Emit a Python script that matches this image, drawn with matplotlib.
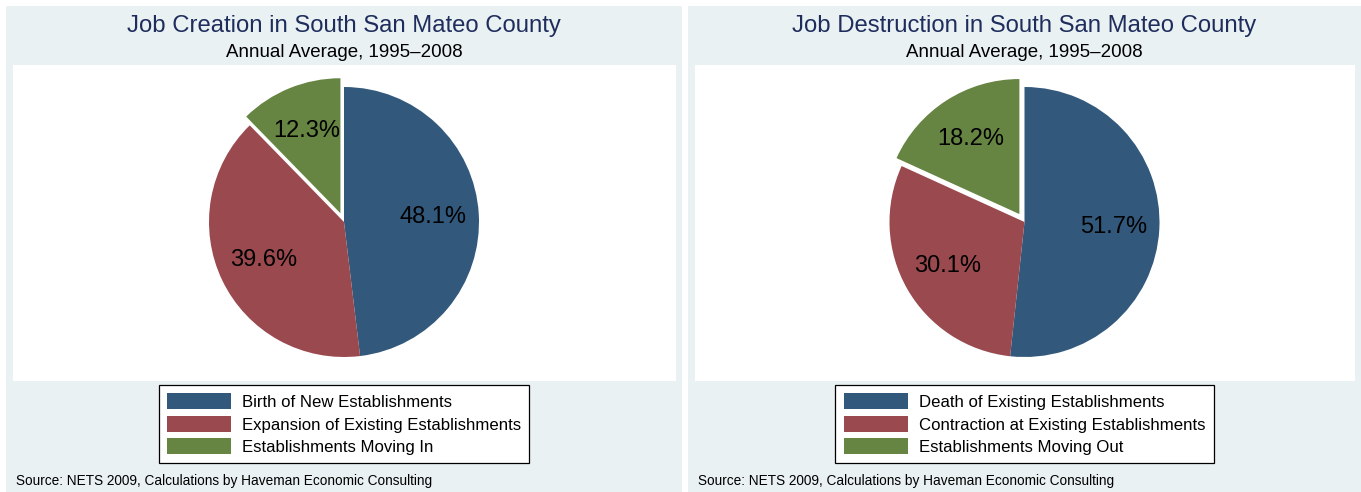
import matplotlib
matplotlib.use("Agg")
import matplotlib.pyplot as plt
from matplotlib.patches import Patch

plt.rcParams['font.family'] = ['Liberation Sans', 'DejaVu Sans']

W, H = 1361, 492

creation_labels = ['Birth of New Establishments',
                   'Expansion of Existing Establishments',
                   'Establishments Moving In']
creation_share = [48.1, 39.6, 12.3]

destruction_labels = ['Death of Existing Establishments',
                      'Contraction at Existing Establishments',
                      'Establishments Moving Out']
destruction_share = [51.7, 30.1, 18.2]

titles = ['Job Creation in South San Mateo County',
          'Job Destruction in South San Mateo County']
subtitle = 'Annual Average, 1995\u20132008'
source = 'Source: NETS 2009, Calculations by Haveman Economic Consulting'

colors = ['#32597C', '#9A494F', '#668442']
panel_bg = '#EAF1F3'
title_color = '#1E2D5C'


def px(x0, y0, x1, y1):
    # pixel box (top-left origin) -> figure fraction rect
    return [x0 / W, 1 - y1 / H, (x1 - x0) / W, (y1 - y0) / H]


fig = plt.figure(figsize=(W / 100, H / 100), dpi=100)
fig.patch.set_facecolor('white')


def panel(x0, x1, title, labels, shares):
    # grey-blue graph region
    bg = fig.add_axes(px(x0, 6, x1, 492))
    bg.set_facecolor(panel_bg)
    bg.set_xticks([]); bg.set_yticks([])
    for s in bg.spines.values():
        s.set_visible(False)
    # white plot region
    inner = fig.add_axes(px(x0 + 7, 65, x1 - 6, 381))
    inner.set_facecolor('white')
    inner.set_xticks([]); inner.set_yticks([])
    for s in inner.spines.values():
        s.set_visible(False)

    cx = (x0 + x1) / 2
    fig.text(cx / W, 1 - 32 / H, title, ha='center', va='baseline',
             fontsize=17.2, color=title_color)
    fig.text(cx / W, 1 - 57 / H, subtitle, ha='center', va='baseline',
             fontsize=13.5, color='black')

    # pie: radius 135 px around (cx, 222)
    R = 135
    half = 150
    ax = fig.add_axes(px(cx - half, 222 - half, cx + half, 222 + half))
    ax.pie(shares, colors=colors, startangle=90, counterclock=False,
           explode=[0, 0, 0.07], autopct='%1.1f%%', pctdistance=0.66,
           wedgeprops=dict(linewidth=0), textprops=dict(fontsize=17))
    lim = half / R
    ax.set_xlim(-lim, lim)
    ax.set_ylim(-lim, lim)
    ax.set_aspect('equal')
    ax.axis('off')

    handles = [Patch(facecolor=c, edgecolor='none') for c in colors]
    leg = fig.legend(handles, labels, loc='upper center',
                     bbox_to_anchor=(cx / W, 1 - 385 / H), borderaxespad=0,
                     fontsize=12.1, frameon=True, fancybox=False,
                     edgecolor='black', framealpha=1, handlelength=3.8,
                     handleheight=1.07, handletextpad=0.65, labelspacing=0.35,
                     borderpad=0.5)
    leg.get_frame().set_linewidth(0.9)

    fig.text((x0 + 10) / W, 1 - 485 / H, source, ha='left', va='baseline',
             fontsize=9.8, color='black')


panel(6, 682, titles[0], creation_labels, creation_share)
panel(688, 1361, titles[1], destruction_labels, destruction_share)

fig.savefig('out.png', dpi=100, facecolor='white')
